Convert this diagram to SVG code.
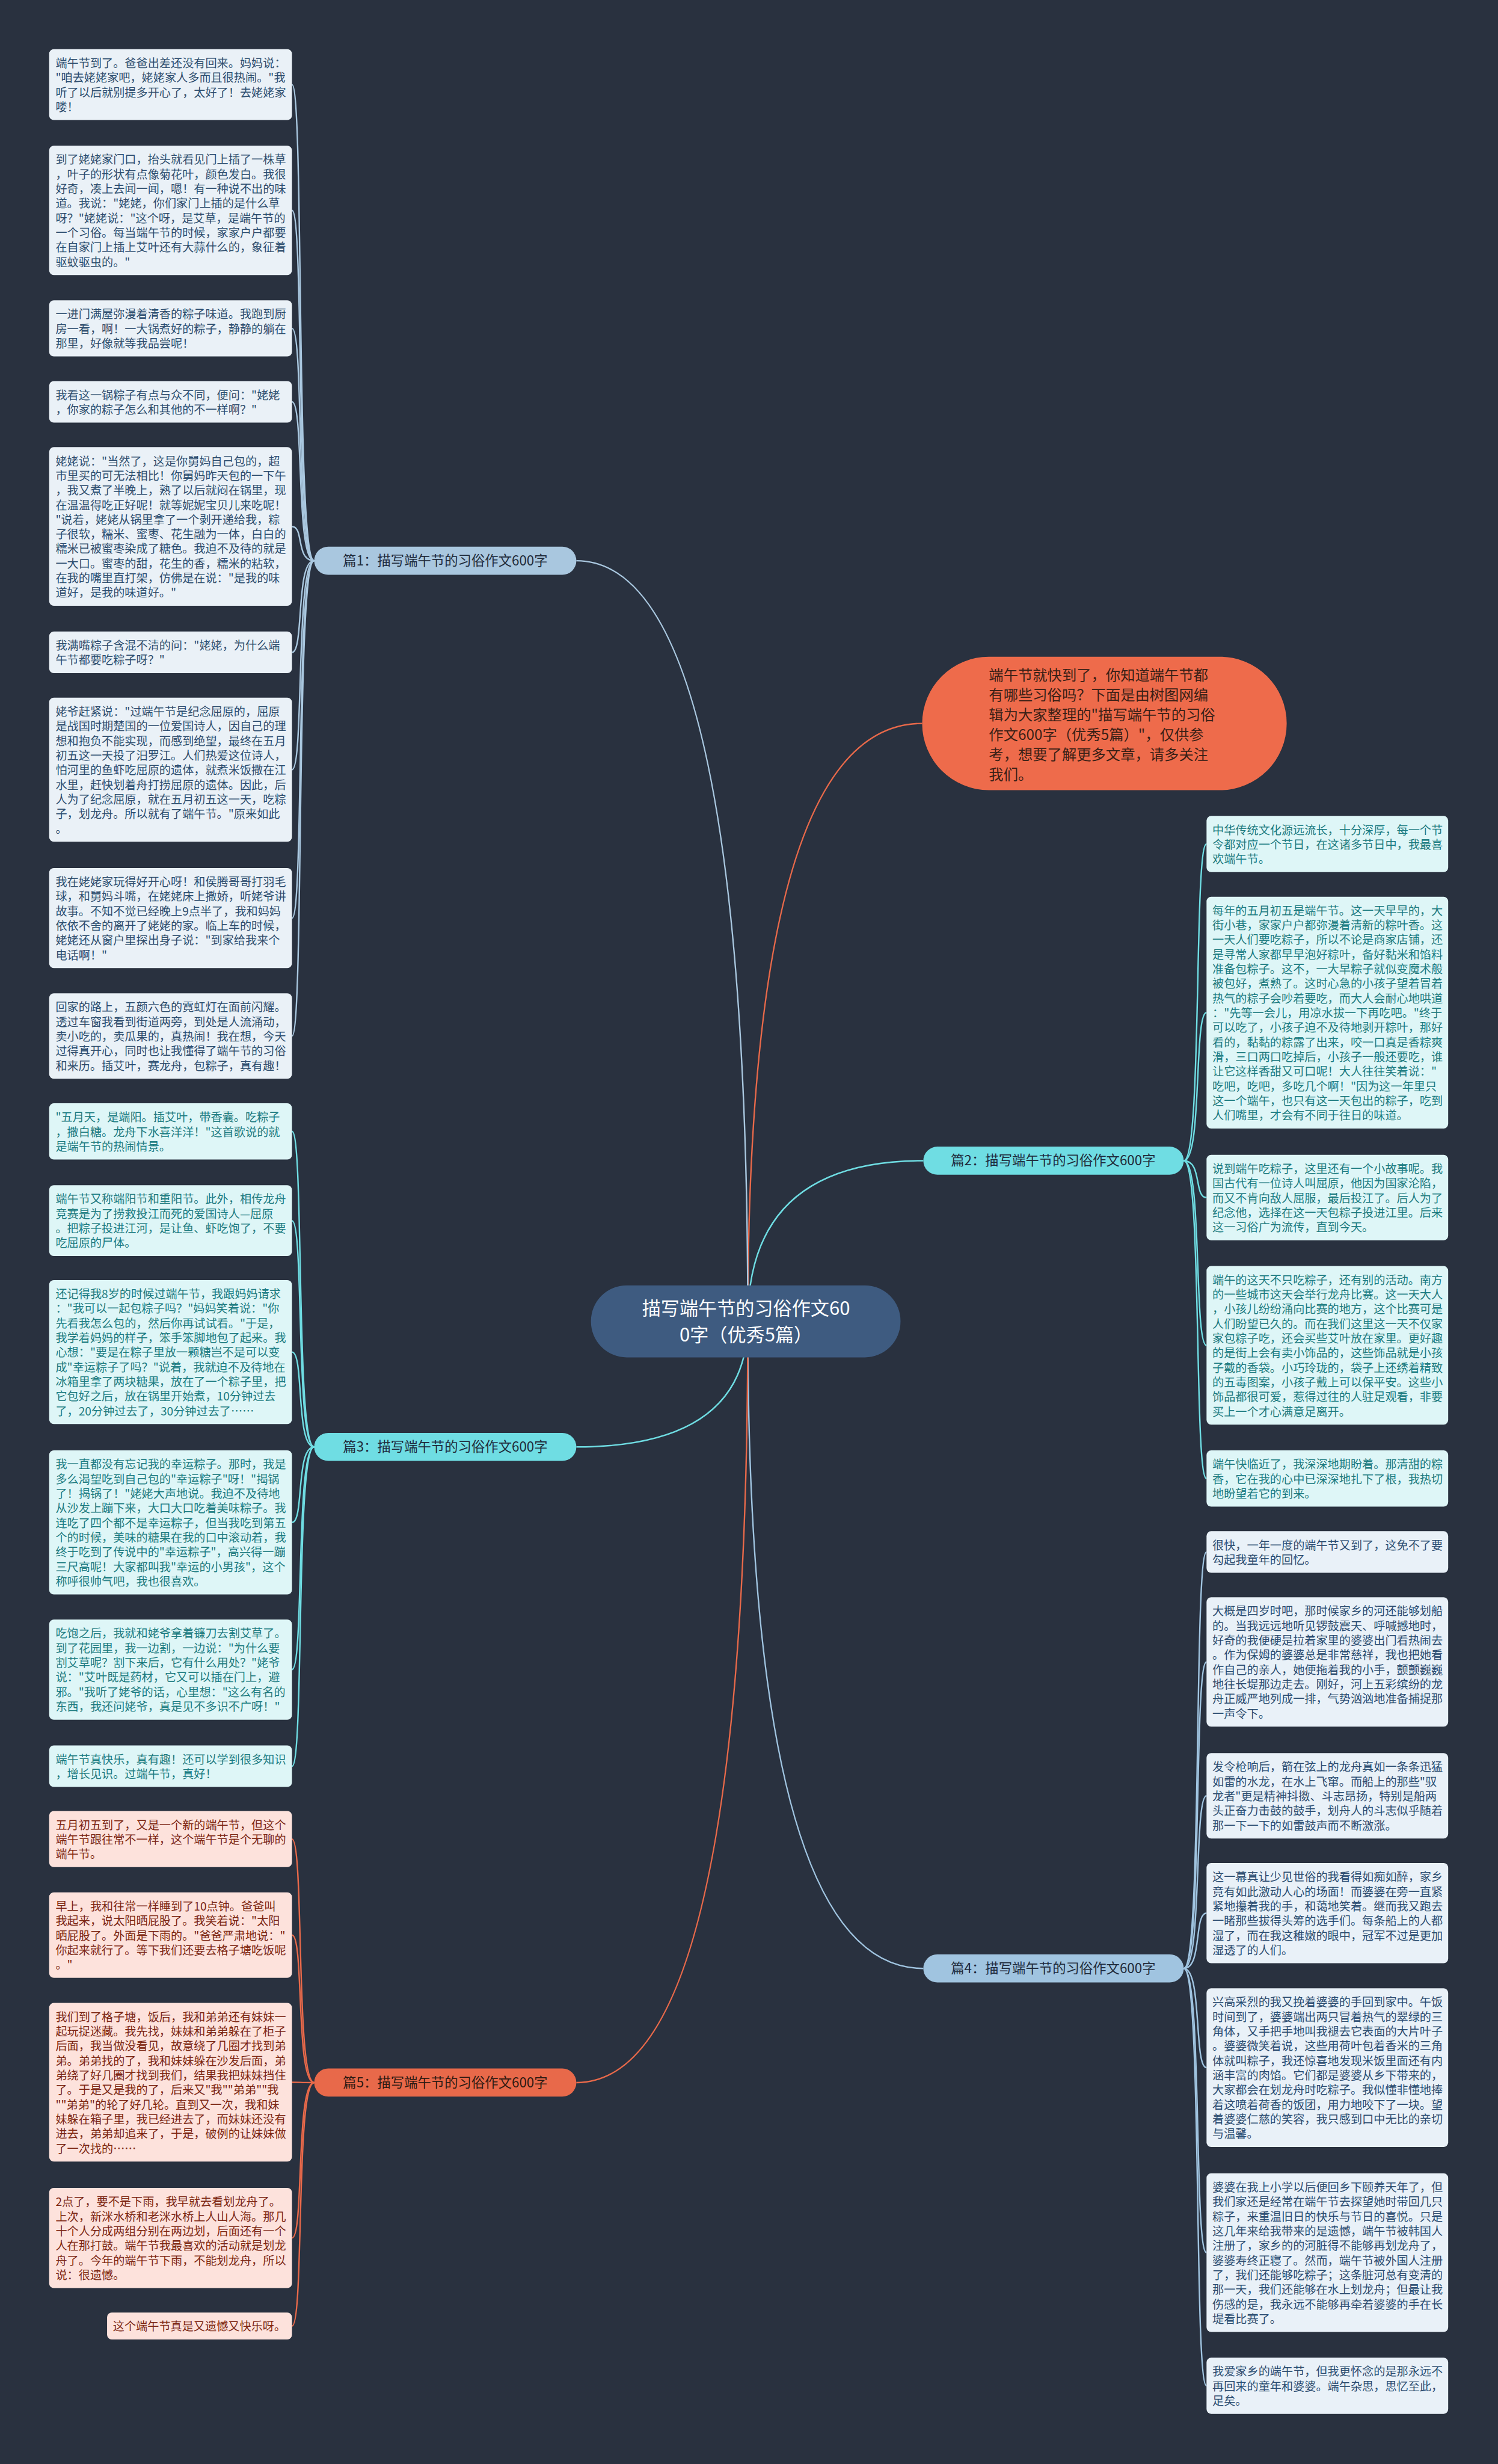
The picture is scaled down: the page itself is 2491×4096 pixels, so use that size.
<svg xmlns="http://www.w3.org/2000/svg" width="2491" height="4096" viewBox="0 0 2491 4096">
<style>
.t{font-family:"Noto Sans CJK SC","Noto Sans",sans-serif;font-size:19.7px}
.b1{fill:#eaf1f7}.t1{fill:#2d4d6e}
.b2{fill:#def6f7}.t2{fill:#1c7b80}
.b4{fill:#e9f1f8}.t4{fill:#2b4c70}
.b5{fill:#fde2dc}.t5{fill:#7c2612}
.c1{fill:none;stroke:#a9c7df;stroke-width:2.5}
.c2{fill:none;stroke:#6fdde3;stroke-width:2.5}
.c4{fill:none;stroke:#a0c4e0;stroke-width:2.5}
.c5{fill:none;stroke:#e8694a;stroke-width:2.5}
.lab{font-family:"Noto Sans CJK SC","Noto Sans",sans-serif;font-size:23px;fill:#1f2b3b;text-anchor:middle}
</style>
<rect x="0" y="0" width="2491" height="4096" fill="#29313f"/>
<g transform="scale(0.973)">
<g id="connectors">
<path class="c5" d="M1278 2257 Q1278 1236 1576 1236"/>
<path class="c1" d="M1278 2257 Q1278 958 985 958"/>
<path class="c2" d="M1278 2257 Q1278 1983 1578 1983"/>
<path class="c2" d="M1278 2257 Q1278 2472 985 2472"/>
<path class="c4" d="M1278 2257 Q1278 3363 1578 3363"/>
<path class="c5" d="M1278 2257 Q1278 3558 985 3558"/>
<path class="c1" d="M537 958 C505 958 520 144.5 499 144.5"/>
<path class="c1" d="M537 958 C505 958 520 359.5 499 359.5"/>
<path class="c1" d="M537 958 C505 958 520 561 499 561"/>
<path class="c1" d="M537 958 C505 958 520 686.5 499 686.5"/>
<path class="c1" d="M537 958 C505 958 520 899.5 499 899.5"/>
<path class="c1" d="M537 958 C505 958 520 1114.5 499 1114.5"/>
<path class="c1" d="M537 958 C505 958 520 1315 499 1315"/>
<path class="c1" d="M537 958 C505 958 520 1568.5 499 1568.5"/>
<path class="c1" d="M537 958 C505 958 520 1770 499 1770"/>
<path class="c2" d="M537 2472 C505 2472 520 1933 499 1933"/>
<path class="c2" d="M537 2472 C505 2472 520 2085.5 499 2085.5"/>
<path class="c2" d="M537 2472 C505 2472 520 2310 499 2310"/>
<path class="c2" d="M537 2472 C505 2472 520 2601 499 2601"/>
<path class="c2" d="M537 2472 C505 2472 520 2852.5 499 2852.5"/>
<path class="c2" d="M537 2472 C505 2472 520 3017.5 499 3017.5"/>
<path class="c5" d="M537 3558 C505 3558 520 3142 499 3142"/>
<path class="c5" d="M537 3558 C505 3558 520 3306 499 3306"/>
<path class="c5" d="M537 3558 C505 3558 520 3557.5 499 3557.5"/>
<path class="c5" d="M537 3558 C505 3558 520 3823.5 499 3823.5"/>
<path class="c5" d="M537 3558 C505 3558 520 3974 499 3974"/>
<path class="c2" d="M2023 1983 C2055 1983 2040 1442 2062 1442"/>
<path class="c2" d="M2023 1983 C2055 1983 2040 1730 2062 1730"/>
<path class="c2" d="M2023 1983 C2055 1983 2040 2046 2062 2046"/>
<path class="c2" d="M2023 1983 C2055 1983 2040 2298.5 2062 2298.5"/>
<path class="c2" d="M2023 1983 C2055 1983 2040 2526 2062 2526"/>
<path class="c4" d="M2023 3363 C2055 3363 2040 2651.5 2062 2651.5"/>
<path class="c4" d="M2023 3363 C2055 3363 2040 2839.5 2062 2839.5"/>
<path class="c4" d="M2023 3363 C2055 3363 2040 3068 2062 3068"/>
<path class="c4" d="M2023 3363 C2055 3363 2040 3268.5 2062 3268.5"/>
<path class="c4" d="M2023 3363 C2055 3363 2040 3532.5 2062 3532.5"/>
<path class="c4" d="M2023 3363 C2055 3363 2040 3848.5 2062 3848.5"/>
<path class="c4" d="M2023 3363 C2055 3363 2040 4076 2062 4076"/>
</g>

<g id="center">
<rect x="1010" y="2196" width="529" height="123" rx="61" fill="#3e5b80"/>
<text font-family="Noto Sans CJK SC, Noto Sans, sans-serif" font-size="32" fill="#ffffff" text-anchor="middle"><tspan x="1275" y="2247">描写端午节的习俗作文60</tspan><tspan x="1275" y="2292">0字（优秀5篇）</tspan></text>
</g>

<g id="intro">
<rect x="1576" y="1122" width="623" height="228" rx="114" fill="#ee6b4b"/>
<text font-family="Noto Sans CJK SC, Noto Sans, sans-serif" font-size="25" fill="#3a2016"><tspan x="1690" y="1162">端午节就快到了，你知道端午节都</tspan><tspan x="1690" y="1196">有哪些习俗吗？下面是由树图网编</tspan><tspan x="1690" y="1230">辑为大家整理的"描写端午节的习俗</tspan><tspan x="1690" y="1264">作文600字（优秀5篇）"，仅供参</tspan><tspan x="1690" y="1298">考，想要了解更多文章，请多关注</tspan><tspan x="1690" y="1332">我们。</tspan></text>
</g>

<g id="label1"><rect x="537" y="934" width="448" height="48" rx="24" fill="#a9c7df"/><text class="lab" x="761" y="966">篇1：描写端午节的习俗作文600字</text></g>
<g id="label2"><rect x="1578" y="1959" width="445" height="48" rx="24" fill="#6fdde3"/><text class="lab" x="1800" y="1991">篇2：描写端午节的习俗作文600字</text></g>
<g id="label3"><rect x="537" y="2448" width="448" height="48" rx="24" fill="#6fdde3"/><text class="lab" x="761" y="2480">篇3：描写端午节的习俗作文600字</text></g>
<g id="label4"><rect x="1578" y="3339" width="445" height="48" rx="24" fill="#a0c4e0"/><text class="lab" x="1800" y="3371">篇4：描写端午节的习俗作文600字</text></g>
<g id="label5"><rect x="537" y="3534" width="448" height="48" rx="24" fill="#e8694a"/><text class="lab" x="761" y="3566" style="fill:#2e1a12">篇5：描写端午节的习俗作文600字</text></g>

<g id="L1"><rect class="b1" x="84" y="84" width="415" height="121" rx="8"/><text class="t t1"><tspan x="95" y="115">端午节到了。爸爸出差还没有回来。妈妈说：</tspan><tspan x="95" dy="25">"咱去姥姥家吧，姥姥家人多而且很热闹。"我</tspan><tspan x="95" dy="25">听了以后就别提多开心了，太好了！去姥姥家</tspan><tspan x="95" dy="25">喽！</tspan></text></g>
<g id="L2"><rect class="b1" x="84" y="249" width="415" height="221" rx="8"/><text class="t t1"><tspan x="95" y="280">到了姥姥家门口，抬头就看见门上插了一株草</tspan><tspan x="95" dy="25">，叶子的形状有点像菊花叶，颜色发白。我很</tspan><tspan x="95" dy="25">好奇，凑上去闻一闻，嗯！有一种说不出的味</tspan><tspan x="95" dy="25">道。我说："姥姥，你们家门上插的是什么草</tspan><tspan x="95" dy="25">呀？"姥姥说："这个呀，是艾草，是端午节的</tspan><tspan x="95" dy="25">一个习俗。每当端午节的时候，家家户户都要</tspan><tspan x="95" dy="25">在自家门上插上艾叶还有大蒜什么的，象征着</tspan><tspan x="95" dy="25">驱蚊驱虫的。"</tspan></text></g>
<g id="L3"><rect class="b1" x="84" y="513" width="415" height="96" rx="8"/><text class="t t1"><tspan x="95" y="544">一进门满屋弥漫着清香的粽子味道。我跑到厨</tspan><tspan x="95" dy="25">房一看，啊！一大锅煮好的粽子，静静的躺在</tspan><tspan x="95" dy="25">那里，好像就等我品尝呢！</tspan></text></g>
<g id="L4"><rect class="b1" x="84" y="651" width="415" height="71" rx="8"/><text class="t t1"><tspan x="95" y="682">我看这一锅粽子有点与众不同，便问："姥姥</tspan><tspan x="95" dy="25">，你家的粽子怎么和其他的不一样啊？"</tspan></text></g>
<g id="L5"><rect class="b1" x="84" y="764" width="415" height="271" rx="8"/><text class="t t1"><tspan x="95" y="795">姥姥说："当然了，这是你舅妈自己包的，超</tspan><tspan x="95" dy="25">市里买的可无法相比！你舅妈昨天包的一下午</tspan><tspan x="95" dy="25">，我又煮了半晚上，熟了以后就闷在锅里，现</tspan><tspan x="95" dy="25">在温温得吃正好呢！就等妮妮宝贝儿来吃呢！</tspan><tspan x="95" dy="25">"说着，姥姥从锅里拿了一个剥开递给我，粽</tspan><tspan x="95" dy="25">子很软，糯米、蜜枣、花生融为一体，白白的</tspan><tspan x="95" dy="25">糯米已被蜜枣染成了糖色。我迫不及待的就是</tspan><tspan x="95" dy="25">一大口。蜜枣的甜，花生的香，糯米的粘软，</tspan><tspan x="95" dy="25">在我的嘴里直打架，仿佛是在说："是我的味</tspan><tspan x="95" dy="25">道好，是我的味道好。"</tspan></text></g>
<g id="L6"><rect class="b1" x="84" y="1079" width="415" height="71" rx="8"/><text class="t t1"><tspan x="95" y="1110">我满嘴粽子含混不清的问："姥姥，为什么端</tspan><tspan x="95" dy="25">午节都要吃粽子呀？"</tspan></text></g>
<g id="L7"><rect class="b1" x="84" y="1192" width="415" height="246" rx="8"/><text class="t t1"><tspan x="95" y="1223">姥爷赶紧说："过端午节是纪念屈原的，屈原</tspan><tspan x="95" dy="25">是战国时期楚国的一位爱国诗人，因自己的理</tspan><tspan x="95" dy="25">想和抱负不能实现，而感到绝望，最终在五月</tspan><tspan x="95" dy="25">初五这一天投了汨罗江。人们热爱这位诗人，</tspan><tspan x="95" dy="25">怕河里的鱼虾吃屈原的遗体，就煮米饭撒在江</tspan><tspan x="95" dy="25">水里，赶快划着舟打捞屈原的遗体。因此，后</tspan><tspan x="95" dy="25">人为了纪念屈原，就在五月初五这一天，吃粽</tspan><tspan x="95" dy="25">子，划龙舟。所以就有了端午节。"原来如此</tspan><tspan x="95" dy="25">。</tspan></text></g>
<g id="L8"><rect class="b1" x="84" y="1483" width="415" height="171" rx="8"/><text class="t t1"><tspan x="95" y="1514">我在姥姥家玩得好开心呀！和侯腾哥哥打羽毛</tspan><tspan x="95" dy="25">球，和舅妈斗嘴，在姥姥床上撒娇，听姥爷讲</tspan><tspan x="95" dy="25">故事。不知不觉已经晚上9点半了，我和妈妈</tspan><tspan x="95" dy="25">依依不舍的离开了姥姥的家。临上车的时候，</tspan><tspan x="95" dy="25">姥姥还从窗户里探出身子说："到家给我来个</tspan><tspan x="95" dy="25">电话啊！"</tspan></text></g>
<g id="L9"><rect class="b1" x="84" y="1697" width="415" height="146" rx="8"/><text class="t t1"><tspan x="95" y="1728">回家的路上，五颜六色的霓虹灯在面前闪耀。</tspan><tspan x="95" dy="25">透过车窗我看到街道两旁，到处是人流涌动，</tspan><tspan x="95" dy="25">卖小吃的，卖瓜果的，真热闹！我在想，今天</tspan><tspan x="95" dy="25">过得真开心，同时也让我懂得了端午节的习俗</tspan><tspan x="95" dy="25">和来历。插艾叶，赛龙舟，包粽子，真有趣！</tspan></text></g>

<g id="L10"><rect class="b2" x="84" y="1885" width="415" height="96" rx="8"/><text class="t t2"><tspan x="95" y="1916">"五月天，是端阳。插艾叶，带香囊。吃粽子</tspan><tspan x="95" dy="25">，撒白糖。龙舟下水喜洋洋！"这首歌说的就</tspan><tspan x="95" dy="25">是端午节的热闹情景。</tspan></text></g>
<g id="L11"><rect class="b2" x="84" y="2025" width="415" height="121" rx="8"/><text class="t t2"><tspan x="95" y="2056">端午节又称端阳节和重阳节。此外，相传龙舟</tspan><tspan x="95" dy="25">竞赛是为了捞救投江而死的爱国诗人—屈原</tspan><tspan x="95" dy="25">。把粽子投进江河，是让鱼、虾吃饱了，不要</tspan><tspan x="95" dy="25">吃屈原的尸体。</tspan></text></g>
<g id="L12"><rect class="b2" x="84" y="2187" width="415" height="246" rx="8"/><text class="t t2"><tspan x="95" y="2218">还记得我8岁的时候过端午节，我跟妈妈请求</tspan><tspan x="95" dy="25">："我可以一起包粽子吗？"妈妈笑着说："你</tspan><tspan x="95" dy="25">先看我怎么包的，然后你再试试看。"于是，</tspan><tspan x="95" dy="25">我学着妈妈的样子，笨手笨脚地包了起来。我</tspan><tspan x="95" dy="25">心想："要是在粽子里放一颗糖岂不是可以变</tspan><tspan x="95" dy="25">成"幸运粽子了吗？"说着，我就迫不及待地在</tspan><tspan x="95" dy="25">冰箱里拿了两块糖果，放在了一个粽子里，把</tspan><tspan x="95" dy="25">它包好之后，放在锅里开始煮，10分钟过去</tspan><tspan x="95" dy="25">了，20分钟过去了，30分钟过去了……</tspan></text></g>
<g id="L13"><rect class="b2" x="84" y="2478" width="415" height="246" rx="8"/><text class="t t2"><tspan x="95" y="2509">我一直都没有忘记我的幸运粽子。那时，我是</tspan><tspan x="95" dy="25">多么渴望吃到自己包的"幸运粽子"呀！"揭锅</tspan><tspan x="95" dy="25">了！揭锅了！"姥姥大声地说。我迫不及待地</tspan><tspan x="95" dy="25">从沙发上蹦下来，大口大口吃着美味粽子。我</tspan><tspan x="95" dy="25">连吃了四个都不是幸运粽子，但当我吃到第五</tspan><tspan x="95" dy="25">个的时候，美味的糖果在我的口中滚动着，我</tspan><tspan x="95" dy="25">终于吃到了传说中的"幸运粽子"，高兴得一蹦</tspan><tspan x="95" dy="25">三尺高呢！大家都叫我"幸运的小男孩"，这个</tspan><tspan x="95" dy="25">称呼很帅气吧，我也很喜欢。</tspan></text></g>
<g id="L14"><rect class="b2" x="84" y="2767" width="415" height="171" rx="8"/><text class="t t2"><tspan x="95" y="2798">吃饱之后，我就和姥爷拿着镰刀去割艾草了。</tspan><tspan x="95" dy="25">到了花园里，我一边割，一边说："为什么要</tspan><tspan x="95" dy="25">割艾草呢？割下来后，它有什么用处？"姥爷</tspan><tspan x="95" dy="25">说："艾叶既是药材，它又可以插在门上，避</tspan><tspan x="95" dy="25">邪。"我听了姥爷的话，心里想："这么有名的</tspan><tspan x="95" dy="25">东西，我还问姥爷，真是见不多识不广呀！"</tspan></text></g>
<g id="L15"><rect class="b2" x="84" y="2982" width="415" height="71" rx="8"/><text class="t t2"><tspan x="95" y="3013">端午节真快乐，真有趣！还可以学到很多知识</tspan><tspan x="95" dy="25">，增长见识。过端午节，真好！</tspan></text></g>

<g id="L16"><rect class="b5" x="84" y="3094" width="415" height="96" rx="8"/><text class="t t5"><tspan x="95" y="3125">五月初五到了，又是一个新的端午节，但这个</tspan><tspan x="95" dy="25">端午节跟往常不一样，这个端午节是个无聊的</tspan><tspan x="95" dy="25">端午节。</tspan></text></g>
<g id="L17"><rect class="b5" x="84" y="3233" width="415" height="146" rx="8"/><text class="t t5"><tspan x="95" y="3264">早上，我和往常一样睡到了10点钟。爸爸叫</tspan><tspan x="95" dy="25">我起来，说太阳晒屁股了。我笑着说："太阳</tspan><tspan x="95" dy="25">晒屁股了。外面是下雨的。"爸爸严肃地说："</tspan><tspan x="95" dy="25">你起来就行了。等下我们还要去格子塘吃饭呢</tspan><tspan x="95" dy="25">。"</tspan></text></g>
<g id="L18"><rect class="b5" x="84" y="3422" width="415" height="271" rx="8"/><text class="t t5"><tspan x="95" y="3453">我们到了格子塘，饭后，我和弟弟还有妹妹一</tspan><tspan x="95" dy="25">起玩捉迷藏。我先找，妹妹和弟弟躲在了柜子</tspan><tspan x="95" dy="25">后面，我当做没看见，故意绕了几圈才找到弟</tspan><tspan x="95" dy="25">弟。弟弟找的了，我和妹妹躲在沙发后面，弟</tspan><tspan x="95" dy="25">弟绕了好几圈才找到我们，结果我把妹妹挡住</tspan><tspan x="95" dy="25">了。于是又是我的了，后来又"我""弟弟""我</tspan><tspan x="95" dy="25">""弟弟"的轮了好几轮。直到又一次，我和妹</tspan><tspan x="95" dy="25">妹躲在箱子里，我已经进去了，而妹妹还没有</tspan><tspan x="95" dy="25">进去，弟弟却追来了，于是，破例的让妹妹做</tspan><tspan x="95" dy="25">了一次找的……</tspan></text></g>
<g id="L19"><rect class="b5" x="84" y="3738" width="415" height="171" rx="8"/><text class="t t5"><tspan x="95" y="3769">2点了，要不是下雨，我早就去看划龙舟了。</tspan><tspan x="95" dy="25">上次，新洣水桥和老洣水桥上人山人海。那几</tspan><tspan x="95" dy="25">十个人分成两组分别在两边划，后面还有一个</tspan><tspan x="95" dy="25">人在那打鼓。端午节我最喜欢的活动就是划龙</tspan><tspan x="95" dy="25">舟了。今年的端午节下雨，不能划龙舟，所以</tspan><tspan x="95" dy="25">说：很遗憾。</tspan></text></g>
<g id="L20"><rect class="b5" x="183" y="3951" width="316" height="46" rx="8"/><text class="t t5"><tspan x="193" y="3982">这个端午节真是又遗憾又快乐呀。</tspan></text></g>

<g id="R1"><rect class="b2" x="2062" y="1394" width="413" height="96" rx="8"/><text class="t t2"><tspan x="2072" y="1425">中华传统文化源远流长，十分深厚，每一个节</tspan><tspan x="2072" dy="25">令都对应一个节日，在这诸多节日中，我最喜</tspan><tspan x="2072" dy="25">欢端午节。</tspan></text></g>
<g id="R2"><rect class="b2" x="2062" y="1532" width="413" height="396" rx="8"/><text class="t t2"><tspan x="2072" y="1563">每年的五月初五是端午节。这一天早早的，大</tspan><tspan x="2072" dy="25">街小巷，家家户户都弥漫着清新的粽叶香。这</tspan><tspan x="2072" dy="25">一天人们要吃粽子，所以不论是商家店铺，还</tspan><tspan x="2072" dy="25">是寻常人家都早早泡好粽叶，备好黏米和馅料</tspan><tspan x="2072" dy="25">准备包粽子。这不，一大早粽子就似变魔术般</tspan><tspan x="2072" dy="25">被包好，煮熟了。这时心急的小孩子望着冒着</tspan><tspan x="2072" dy="25">热气的粽子会吵着要吃，而大人会耐心地哄道</tspan><tspan x="2072" dy="25">："先等一会儿，用凉水拔一下再吃吧。"终于</tspan><tspan x="2072" dy="25">可以吃了，小孩子迫不及待地剥开粽叶，那好</tspan><tspan x="2072" dy="25">看的，黏黏的粽露了出来，咬一口真是香粽爽</tspan><tspan x="2072" dy="25">滑，三口两口吃掉后，小孩子一般还要吃，谁</tspan><tspan x="2072" dy="25">让它这样香甜又可口呢！大人往往笑着说："</tspan><tspan x="2072" dy="25">吃吧，吃吧，多吃几个啊！"因为这一年里只</tspan><tspan x="2072" dy="25">这一个端午，也只有这一天包出的粽子，吃到</tspan><tspan x="2072" dy="25">人们嘴里，才会有不同于往日的味道。</tspan></text></g>
<g id="R3"><rect class="b2" x="2062" y="1973" width="413" height="146" rx="8"/><text class="t t2"><tspan x="2072" y="2004">说到端午吃粽子，这里还有一个小故事呢。我</tspan><tspan x="2072" dy="25">国古代有一位诗人叫屈原，他因为国家沦陷，</tspan><tspan x="2072" dy="25">而又不肯向敌人屈服，最后投江了。后人为了</tspan><tspan x="2072" dy="25">纪念他，选择在这一天包粽子投进江里。后来</tspan><tspan x="2072" dy="25">这一习俗广为流传，直到今天。</tspan></text></g>
<g id="R4"><rect class="b2" x="2062" y="2163" width="413" height="271" rx="8"/><text class="t t2"><tspan x="2072" y="2194">端午的这天不只吃粽子，还有别的活动。南方</tspan><tspan x="2072" dy="25">的一些城市这天会举行龙舟比赛。这一天大人</tspan><tspan x="2072" dy="25">，小孩儿纷纷涌向比赛的地方，这个比赛可是</tspan><tspan x="2072" dy="25">人们盼望已久的。而在我们这里这一天不仅家</tspan><tspan x="2072" dy="25">家包粽子吃，还会买些艾叶放在家里。更好趣</tspan><tspan x="2072" dy="25">的是街上会有卖小饰品的，这些饰品就是小孩</tspan><tspan x="2072" dy="25">子戴的香袋。小巧玲珑的，袋子上还绣着精致</tspan><tspan x="2072" dy="25">的五毒图案，小孩子戴上可以保平安。这些小</tspan><tspan x="2072" dy="25">饰品都很可爱，惹得过往的人驻足观看，非要</tspan><tspan x="2072" dy="25">买上一个才心满意足离开。</tspan></text></g>
<g id="R5"><rect class="b2" x="2062" y="2478" width="413" height="96" rx="8"/><text class="t t2"><tspan x="2072" y="2509">端午快临近了，我深深地期盼着。那清甜的粽</tspan><tspan x="2072" dy="25">香，它在我的心中已深深地扎下了根，我热切</tspan><tspan x="2072" dy="25">地盼望着它的到来。</tspan></text></g>

<g id="R6"><rect class="b4" x="2062" y="2616" width="413" height="71" rx="8"/><text class="t t4"><tspan x="2072" y="2647">很快，一年一度的端午节又到了，这免不了要</tspan><tspan x="2072" dy="25">勾起我童年的回忆。</tspan></text></g>
<g id="R7"><rect class="b4" x="2062" y="2729" width="413" height="221" rx="8"/><text class="t t4"><tspan x="2072" y="2760">大概是四岁时吧，那时候家乡的河还能够划船</tspan><tspan x="2072" dy="25">的。当我远远地听见锣鼓震天、呼喊撼地时，</tspan><tspan x="2072" dy="25">好奇的我便硬是拉着家里的婆婆出门看热闹去</tspan><tspan x="2072" dy="25">。作为保姆的婆婆总是非常慈祥，我也把她看</tspan><tspan x="2072" dy="25">作自己的亲人，她便拖着我的小手，颤颤巍巍</tspan><tspan x="2072" dy="25">地往长堤那边走去。刚好，河上五彩缤纷的龙</tspan><tspan x="2072" dy="25">舟正威严地列成一排，气势汹汹地准备捕捉那</tspan><tspan x="2072" dy="25">一声令下。</tspan></text></g>
<g id="R8"><rect class="b4" x="2062" y="2995" width="413" height="146" rx="8"/><text class="t t4"><tspan x="2072" y="3026">发令枪响后，箭在弦上的龙舟真如一条条迅猛</tspan><tspan x="2072" dy="25">如雷的水龙，在水上飞窜。而船上的那些"驭</tspan><tspan x="2072" dy="25">龙者"更是精神抖擞、斗志昂扬，特别是船两</tspan><tspan x="2072" dy="25">头正奋力击鼓的鼓手，划舟人的斗志似乎随着</tspan><tspan x="2072" dy="25">那一下一下的如雷鼓声而不断激涨。</tspan></text></g>
<g id="R9"><rect class="b4" x="2062" y="3183" width="413" height="171" rx="8"/><text class="t t4"><tspan x="2072" y="3214">这一幕真让少见世俗的我看得如痴如醉，家乡</tspan><tspan x="2072" dy="25">竟有如此激动人心的场面！而婆婆在旁一直紧</tspan><tspan x="2072" dy="25">紧地攥着我的手，和蔼地笑着。继而我又跑去</tspan><tspan x="2072" dy="25">一睹那些拔得头筹的选手们。每条船上的人都</tspan><tspan x="2072" dy="25">湿了，而在我这稚嫩的眼中，冠军不过是更加</tspan><tspan x="2072" dy="25">湿透了的人们。</tspan></text></g>
<g id="R10"><rect class="b4" x="2062" y="3397" width="413" height="271" rx="8"/><text class="t t4"><tspan x="2072" y="3428">兴高采烈的我又挽着婆婆的手回到家中。午饭</tspan><tspan x="2072" dy="25">时间到了，婆婆端出两只冒着热气的翠绿的三</tspan><tspan x="2072" dy="25">角体，又手把手地叫我褪去它表面的大片叶子</tspan><tspan x="2072" dy="25">。婆婆微笑着说，这些用荷叶包着香米的三角</tspan><tspan x="2072" dy="25">体就叫粽子，我还惊喜地发现米饭里面还有内</tspan><tspan x="2072" dy="25">涵丰富的肉馅。它们都是婆婆从乡下带来的，</tspan><tspan x="2072" dy="25">大家都会在划龙舟时吃粽子。我似懂非懂地捧</tspan><tspan x="2072" dy="25">着这喷着荷香的饭团，用力地咬下了一块。望</tspan><tspan x="2072" dy="25">着婆婆仁慈的笑容，我只感到口中无比的亲切</tspan><tspan x="2072" dy="25">与温馨。</tspan></text></g>
<g id="R11"><rect class="b4" x="2062" y="3713" width="413" height="271" rx="8"/><text class="t t4"><tspan x="2072" y="3744">婆婆在我上小学以后便回乡下颐养天年了，但</tspan><tspan x="2072" dy="25">我们家还是经常在端午节去探望她时带回几只</tspan><tspan x="2072" dy="25">粽子，来重温旧日的快乐与节日的喜悦。只是</tspan><tspan x="2072" dy="25">这几年来给我带来的是遗憾，端午节被韩国人</tspan><tspan x="2072" dy="25">注册了，家乡的的河脏得不能够再划龙舟了，</tspan><tspan x="2072" dy="25">婆婆寿终正寝了。然而，端午节被外国人注册</tspan><tspan x="2072" dy="25">了，我们还能够吃粽子；这条脏河总有变清的</tspan><tspan x="2072" dy="25">那一天，我们还能够在水上划龙舟；但最让我</tspan><tspan x="2072" dy="25">伤感的是，我永远不能够再牵着婆婆的手在长</tspan><tspan x="2072" dy="25">堤看比赛了。</tspan></text></g>
<g id="R12"><rect class="b4" x="2062" y="4028" width="413" height="96" rx="8"/><text class="t t4"><tspan x="2072" y="4059">我爱家乡的端午节，但我更怀念的是那永远不</tspan><tspan x="2072" dy="25">再回来的童年和婆婆。端午杂思，思忆至此，</tspan><tspan x="2072" dy="25">足矣。</tspan></text></g>
</g>
</svg>
